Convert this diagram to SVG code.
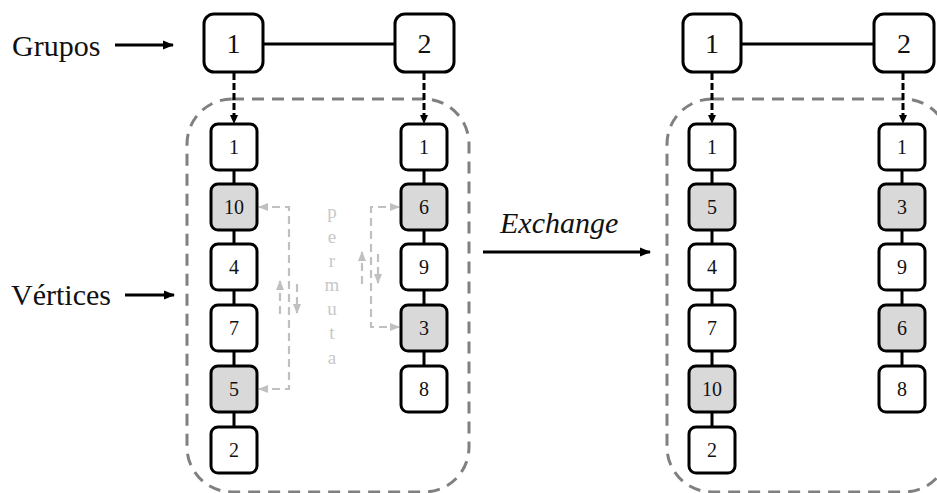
<svg xmlns="http://www.w3.org/2000/svg" width="937" height="493" viewBox="0 0 937 493">
  <style>
    .top rect { fill: #fff; stroke: #000; stroke-width: 3; }
    .v rect { fill: #fff; stroke: #000; stroke-width: 3; }
    .v.sel rect { fill: #d9d9d9; }
    .top text { font-family: "Liberation Serif", serif; font-size: 28px; text-anchor: middle; fill: #111; }
    .v text { font-family: "Liberation Serif", serif; font-size: 20px; text-anchor: middle; fill: #111; }
    .label { font-family: "Liberation Serif", serif; font-size: 30px; fill: #111; }
    .perm { font-family: "Liberation Serif", serif; font-size: 19px; fill: #c8c8c8; text-anchor: middle; }
    .box { fill: none; stroke: #808080; stroke-width: 3; stroke-dasharray: 12 8; }
    .link { stroke: #000; stroke-width: 3; fill: none; }
    .drop { stroke: #000; stroke-width: 3; stroke-dasharray: 7 3; fill: none; marker-end: url(#ah); }
    .arrow { stroke: #000; stroke-width: 3; fill: none; marker-end: url(#ahBig); }
    .swap { stroke: #c0c0c0; stroke-width: 2.2; stroke-dasharray: 8 5; fill: none; marker-end: url(#ahGray); }
    .swap.both { marker-start: url(#ahGray); }
  </style>
  <defs>
    <marker id="ah" markerUnits="userSpaceOnUse" markerWidth="10" markerHeight="10" refX="8" refY="5" orient="auto">
      <path d="M0,1 L9,5 L0,9 Z" fill="#000"/>
    </marker>
    <marker id="ahBig" markerUnits="userSpaceOnUse" markerWidth="12" markerHeight="12" refX="10" refY="6" orient="auto">
      <path d="M0,1.5 L11,6 L0,10.5 Z" fill="#000"/>
    </marker>
    <marker id="ahGray" markerUnits="userSpaceOnUse" markerWidth="11" markerHeight="11" refX="9" refY="5.5" orient="auto-start-reverse">
      <path d="M0,1.5 L10,5.5 L0,9.5 Z" fill="#c0c0c0"/>
    </marker>
  </defs>

  <!-- side labels -->
  <text class="label" x="12" y="56">Grupos</text>
  <text class="label" x="11" y="305">Vértices</text>
  <text class="label" x="500" y="233" font-style="italic">Exchange</text>

  <!-- vertical "permuta" caption -->
  <g id="permuta">
    <text class="perm" x="332" y="218">p</text>
    <text class="perm" x="332" y="243">e</text>
    <text class="perm" x="332" y="267">r</text>
    <text class="perm" x="332" y="291">m</text>
    <text class="perm" x="332" y="315">u</text>
    <text class="perm" x="332" y="339">t</text>
    <text class="perm" x="332" y="364">a</text>
  </g>

  <!-- dashed group containers -->
  <rect class="box" x="187" y="99" width="282" height="393" rx="45"/>
  <rect class="box" x="667" y="99" width="282" height="393" rx="45"/>

  <g id="connectors">
    <line class="arrow" x1="115" y1="45" x2="173" y2="45"/>
    <line class="arrow" x1="125" y1="295" x2="174" y2="295"/>
    <line class="arrow" x1="483" y1="252" x2="650" y2="252"/>

    <!-- group links -->
    <line class="link" x1="263" y1="44" x2="395" y2="44"/>
    <line class="link" x1="741" y1="44" x2="874" y2="44"/>

    <!-- group to first vertex -->
    <line class="drop" x1="234" y1="73" x2="234" y2="123"/>
    <line class="drop" x1="424" y1="73" x2="424" y2="123"/>
    <line class="drop" x1="712" y1="73" x2="712" y2="123"/>
    <line class="drop" x1="903" y1="73" x2="903" y2="123"/>

    <!-- vertex chains -->
    <line class="link" x1="234" y1="170" x2="234" y2="427"/>
    <line class="link" x1="424" y1="170" x2="424" y2="366"/>
    <line class="link" x1="712" y1="170" x2="712" y2="427"/>
    <line class="link" x1="902" y1="170" x2="902" y2="366"/>

    <!-- swap between vertices 10 and 5 -->
    <path class="swap both" d="M259,207 L289,207 L289,389 L259,389"/>
    <line class="swap" x1="280" y1="314" x2="280" y2="281"/>
    <line class="swap" x1="297" y1="284" x2="297" y2="313"/>

    <!-- swap between vertices 6 and 3 -->
    <path class="swap both" d="M399,207 L371,207 L371,327 L399,327"/>
    <line class="swap" x1="362" y1="284" x2="362" y2="252"/>
    <line class="swap" x1="378" y1="254" x2="378" y2="283"/>
  </g>

  <!-- groups (before) -->
  <g id="g1a" class="top"><rect x="204" y="14" width="59" height="58" rx="10"/><text x="233.5" y="53">1</text></g>
  <g id="g2a" class="top"><rect x="395" y="14" width="59" height="58" rx="10"/><text x="424.5" y="53">2</text></g>

  <!-- vertices of group 1 (before) -->
  <g id="a1-1" class="v"><rect x="211" y="124" width="46" height="46" rx="7"/><text x="234" y="154">1</text></g>
  <g id="a1-10" class="v sel"><rect x="211" y="184" width="46" height="46" rx="7"/><text x="234" y="214">10</text></g>
  <g id="a1-4" class="v"><rect x="211" y="244" width="46" height="46" rx="7"/><text x="234" y="274">4</text></g>
  <g id="a1-7" class="v"><rect x="211" y="305" width="46" height="46" rx="7"/><text x="234" y="335">7</text></g>
  <g id="a1-5" class="v sel"><rect x="211" y="366" width="46" height="46" rx="7"/><text x="234" y="396">5</text></g>
  <g id="a1-2" class="v"><rect x="211" y="427" width="46" height="46" rx="7"/><text x="234" y="457">2</text></g>

  <!-- vertices of group 2 (before) -->
  <g id="a2-1" class="v"><rect x="401" y="124" width="46" height="46" rx="7"/><text x="424" y="154">1</text></g>
  <g id="a2-6" class="v sel"><rect x="401" y="184" width="46" height="46" rx="7"/><text x="424" y="214">6</text></g>
  <g id="a2-9" class="v"><rect x="401" y="244" width="46" height="46" rx="7"/><text x="424" y="274">9</text></g>
  <g id="a2-3" class="v sel"><rect x="401" y="305" width="46" height="46" rx="7"/><text x="424" y="335">3</text></g>
  <g id="a2-8" class="v"><rect x="401" y="366" width="46" height="46" rx="7"/><text x="424" y="396">8</text></g>

  <!-- groups (after) -->
  <g id="g1b" class="top"><rect x="683" y="14" width="58" height="58" rx="10"/><text x="712" y="53">1</text></g>
  <g id="g2b" class="top"><rect x="874" y="14" width="60" height="58" rx="10"/><text x="904" y="53">2</text></g>

  <!-- vertices of group 1 (after) -->
  <g id="b1-1" class="v"><rect x="689" y="124" width="46" height="46" rx="7"/><text x="712" y="154">1</text></g>
  <g id="b1-5" class="v sel"><rect x="689" y="184" width="46" height="46" rx="7"/><text x="712" y="214">5</text></g>
  <g id="b1-4" class="v"><rect x="689" y="244" width="46" height="46" rx="7"/><text x="712" y="274">4</text></g>
  <g id="b1-7" class="v"><rect x="689" y="305" width="46" height="46" rx="7"/><text x="712" y="335">7</text></g>
  <g id="b1-10" class="v sel"><rect x="689" y="366" width="46" height="46" rx="7"/><text x="712" y="396">10</text></g>
  <g id="b1-2" class="v"><rect x="689" y="427" width="46" height="46" rx="7"/><text x="712" y="457">2</text></g>

  <!-- vertices of group 2 (after) -->
  <g id="b2-1" class="v"><rect x="879" y="124" width="46" height="46" rx="7"/><text x="902" y="154">1</text></g>
  <g id="b2-3" class="v sel"><rect x="879" y="184" width="46" height="46" rx="7"/><text x="902" y="214">3</text></g>
  <g id="b2-9" class="v"><rect x="879" y="244" width="46" height="46" rx="7"/><text x="902" y="274">9</text></g>
  <g id="b2-6" class="v sel"><rect x="879" y="305" width="46" height="46" rx="7"/><text x="902" y="335">6</text></g>
  <g id="b2-8" class="v"><rect x="879" y="366" width="46" height="46" rx="7"/><text x="902" y="396">8</text></g>
</svg>
